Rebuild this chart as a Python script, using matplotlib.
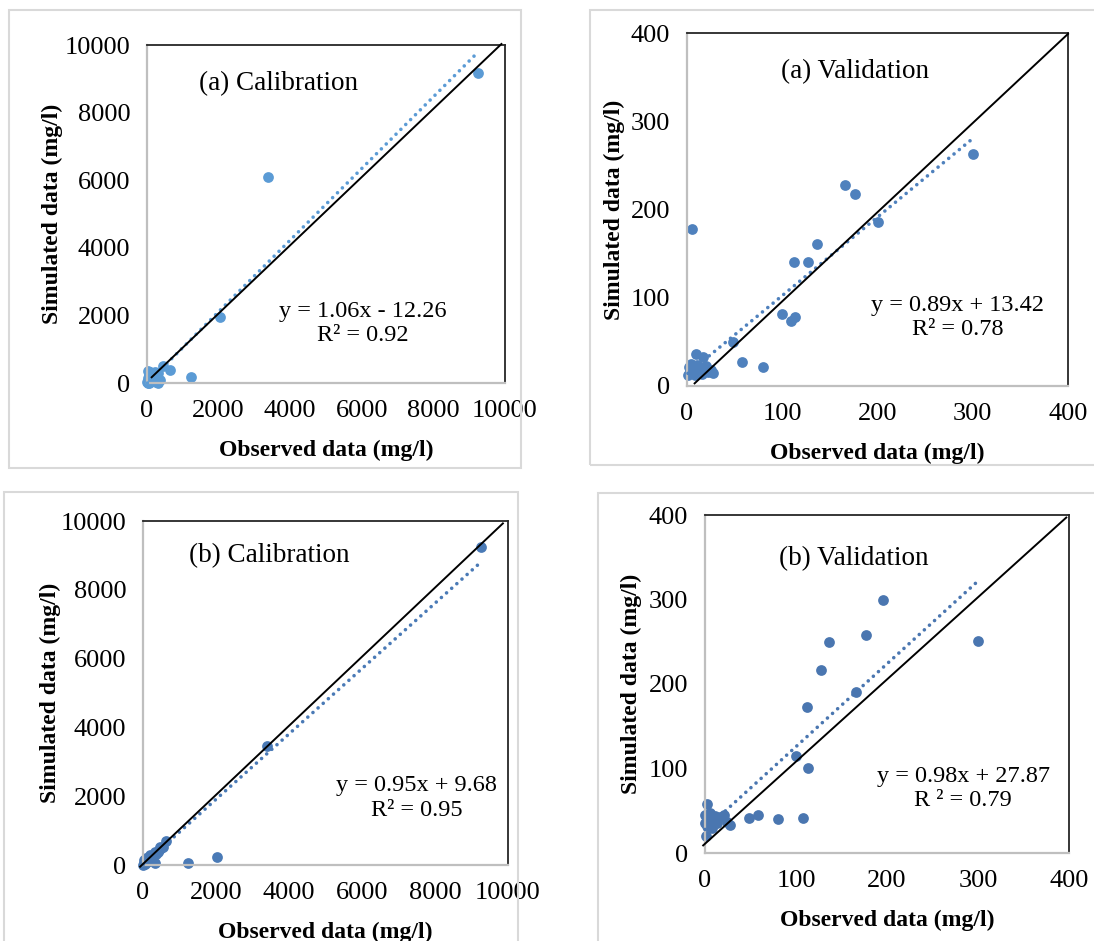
import numpy as np
import matplotlib.pyplot as plt
from matplotlib.patches import Rectangle

plt.rcParams['font.family'] = ['Liberation Serif', 'DejaVu Serif']

# ---- data ----
# (a) calibration
cal_a_obs = [9250, 3380, 2030, 1230, 630, 440,
             10, 20, 30, 40, 50, 60, 70, 80, 100, 120, 150, 180, 200, 230,
             260, 290, 320, 350, 300, 250, 15, 45]
cal_a_sim = [9160, 6100, 1955, 165, 390, 495,
             20, 60, 10, 150, 80, 250, 30, 320, 120, 200, 60, 280, 100, 330,
             40, 220, 10, 80, 300, 150, 350, 5]

# (a) validation
val_a_obs = [300, 166, 176, 201, 5, 137, 112, 127, 100, 109, 113, 48, 58, 80, 9, 17,
             1, 2, 3, 4, 5, 6, 8, 10, 12, 14, 16, 18, 20, 22, 25, 27]
val_a_sim = [263, 228, 217, 186, 178, 161, 140, 141, 82, 74, 78, 50, 27, 21, 36, 33,
             13, 22, 18, 25, 15, 20, 12, 24, 17, 21, 14, 19, 23, 16, 18, 15]

# (b) calibration
cal_b_obs = [9270, 3395, 2030, 1240, 640, 470, 330, 190,
             10, 30, 50, 100, 150, 200, 250, 300, 350, 400, 450, 500, 550, 320, 20, 80]
cal_b_sim = [9230, 3450, 225, 70, 690, 510, 390, 290,
             10, 60, 40, 80, 120, 180, 230, 280, 320, 370, 430, 480, 520, 45, 150, 200]

# (b) validation
val_b_obs = [196, 177, 136, 300, 127, 166, 112, 100, 113, 108, 80, 58, 48, 2, 1.5,
             0, 6, 9.5, 17, 20.5, 24, 28, 2, 0.5, 13, 8, 11, 4]
val_b_sim = [300, 258, 250, 251, 216, 190, 173, 115, 101, 42, 40, 44.5, 41, 58, 20.5,
             45, 47, 39, 43, 45, 37, 33.5, 31.5, 35.5, 35.5, 29.6, 44, 40]

# trendline coefficients as printed on the chart
slopes = [1.06, 0.89, 0.95, 0.98]
intercepts = [-12.26, 13.42, 9.68, 27.87]
eq_texts = ["y = 1.06x - 12.26\nR² = 0.92",
            "y = 0.89x + 13.42\nR² = 0.78",
            "y = 0.95x + 9.68\nR² = 0.95",
            "y = 0.98x + 27.87\nR ² = 0.79"]
panel_titles = ["(a) Calibration", "(a) Validation", "(b) Calibration", "(b) Validation"]

# hand drawn 1:1 lines (start and end points)
line_x = [(130, 9900), (8, 400), (-80, 9860), (-2, 397)]
line_y = [(170, 10030), (3, 399), (-50, 9930), (9, 397)]

axis_max = [10000, 400, 10000, 400]
tick_step = [2000, 100, 2000, 100]

# ---- layout (figure pixels) ----
W, H = 1094, 941
axes_px = [(147, 505, 45, 383), (687, 1068, 33, 386),
           (143, 508, 521, 865), (705, 1069, 515, 853)]
frames_px = [(9, 521, 10, 468), (590, 1100, 10, 465),
             (4, 518, 492, 950), (598, 1100, 493, 950)]
title_pos = [(0.366, 0.885), (0.44, 0.89), (0.345, 0.90), (0.41, 0.87)]
eq_pos = [(0.603, 0.175), (0.711, 0.195), (0.75, 0.195), (0.709, 0.19)]
ylabel_pad = [1, 4, 0, 5]
colors = ['#5b9bd5', '#4f81bd', '#4a7ab6', '#4a76b0']

observed = [cal_a_obs, val_a_obs, cal_b_obs, val_b_obs]
simulated = [cal_a_sim, val_a_sim, cal_b_sim, val_b_sim]

fig = plt.figure(figsize=(W / 100, H / 100), dpi=100)

for fx0, fx1, fy0, fy1 in frames_px:
    fig.patches.append(Rectangle((fx0 / W, 1 - fy1 / H), (fx1 - fx0) / W, (fy1 - fy0) / H,
                                 transform=fig.transFigure, fill=False,
                                 edgecolor='#d9d9d9', linewidth=1.5))

for i in range(4):
    x0, x1, y0, y1 = axes_px[i]
    ax = fig.add_axes([x0 / W, 1 - y1 / H, (x1 - x0) / W, (y1 - y0) / H])
    obs = np.array(observed[i], dtype=float)
    sim = np.array(simulated[i], dtype=float)

    ax.scatter(obs, sim, s=60, color=colors[i], zorder=2, clip_on=False, linewidths=0)

    # trendline over the observed range
    tx = np.array([obs.min(), obs.max()])
    ty = slopes[i] * tx + intercepts[i]
    ax.plot(tx, ty, color=colors[i], linewidth=2.6, linestyle=(0, (0.01, 1.9)),
            dash_capstyle='round', zorder=3, clip_on=False)

    # 1:1 line
    ax.plot(line_x[i], line_y[i], color='black', linewidth=1.4, zorder=4, clip_on=False)

    ax.set_xlim(0, axis_max[i])
    ax.set_ylim(0, axis_max[i])
    ticks = np.arange(0, axis_max[i] + 1, tick_step[i])
    ax.set_xticks(ticks)
    ax.set_yticks(ticks)
    ax.tick_params(length=0, labelsize=19, pad=12)

    for side in ['left', 'bottom']:
        ax.spines[side].set_color('#bfbfbf')
        ax.spines[side].set_linewidth(1.6)
    for side in ['top', 'right']:
        ax.spines[side].set_color('#262626')
        ax.spines[side].set_linewidth(1.3)

    ax.set_xlabel('Observed data (mg/l)', fontsize=17, fontweight='bold', labelpad=13)
    ax.set_ylabel('Simulated data (mg/l)', fontsize=17, fontweight='bold',
                  labelpad=ylabel_pad[i])

    ax.text(title_pos[i][0], title_pos[i][1], panel_titles[i], transform=ax.transAxes,
            ha='center', va='center', fontsize=19.5)
    ax.text(eq_pos[i][0], eq_pos[i][1], eq_texts[i], transform=ax.transAxes,
            ha='center', va='center', fontsize=17.5, multialignment='center',
            linespacing=1.2)

fig.savefig('out.png', dpi=100)
